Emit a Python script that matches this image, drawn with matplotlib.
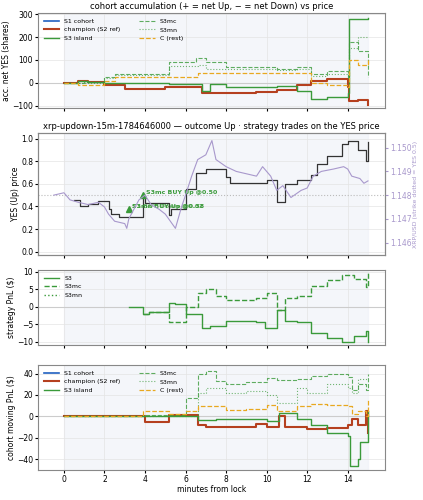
import matplotlib
matplotlib.use("Agg")
import matplotlib.pyplot as plt
import numpy as np

# ---- panel 1: accumulation ----
acc_t_island = [0,0.7,1.2,2,5.2,6.8,7.2,8,10.5,11.5,12.2,13,14,14.05,15]
acc_island   = [0,10,5,0,-5,-35,-5,-20,-15,-35,-70,-60,-45,280,285]
acc_t_champ = [0,0.7,1.2,2,3,5,6.8,9.5,10.5,11.5,12.2,13,14,14.05,14.5,15]
acc_champ   = [0,10,5,-10,-25,-20,-45,-40,-30,-10,10,15,-20,-80,-75,-95]
acc_t_mc = [0,1,2,2.5,5.2,6.5,7,8,10.5,11.5,12.2,13,14,14.05,14.5,15]
acc_mc   = [0,5,25,40,90,110,90,70,60,70,40,50,20,180,140,25]
acc_t_mn = [0,2,2.5,5.2,6.6,7,8,10.5,11.5,12.2,13,14,14.05,14.5,15]
acc_mn   = [0,20,35,75,80,60,60,55,60,30,40,20,150,200,200]
acc_t_c = [0,0.7,2,2.5,5,6.6,10.5,11.5,12.2,13,14,14.05,14.5,15]
acc_c   = [0,-10,10,25,25,45,45,45,0,-10,-20,100,80,100]

# ---- panel 2: price ----
yes_t = [0.5,0.8,1.2,1.7,2.2,2.3,2.7,3.3,3.9,4,5.2,5.3,6,6.5,7,8,8.2,10,10.5,10.9,11.5,12.2,12.5,13,13.7,14,14.5,14.9,15]
yes_p = [0.46,0.40,0.42,0.45,0.38,0.33,0.31,0.31,0.50,0.43,0.32,0.38,0.55,0.70,0.73,0.66,0.61,0.63,0.44,0.60,0.63,0.68,0.78,0.85,0.95,0.98,0.90,0.80,0.97]
xrp_t = [-0.5,0,0.3,0.7,1.2,1.7,2,2.2,2.5,3,3.1,3.2,3.7,4,4.3,4.7,5,5.5,5.8,6,6.3,6.6,7,7.3,7.5,8,8.5,9,9.5,9.8,10.2,10.5,10.8,11.2,11.7,12,12.3,12.7,13.3,13.8,14,14.2,14.6,14.8,15]
xrp_p = [1.1480,1.1481,1.1478,1.1477,1.1476,1.1477,1.1475,1.1472,1.1469,1.1468,1.1466,1.1470,1.1478,1.1480,1.1476,1.1474,1.1472,1.1466,1.1475,1.1480,1.1488,1.1495,1.1497,1.1503,1.1495,1.1492,1.1490,1.1489,1.1488,1.1492,1.1488,1.1482,1.1484,1.1479,1.1482,1.1483,1.1488,1.1490,1.1491,1.1492,1.1491,1.1488,1.1487,1.1485,1.1486]
trade_t = [3.2, 3.9]
trade_p = [0.38, 0.50]
trade_lbl = ["S3mn BUY Up @0.38", "S3mc BUY Up @0.50"]

# ---- panel 3: strategy PnL ----
s3_t = [3.2,3.9,4.2,5.2,5.5,6,6.8,7.2,8,9.5,9.9,10.5,10.9,11.5,12.2,13,13.7,14.3,14.9,15]
s3_v = [0,-2,-1.5,1,0.8,-2,-6,-5.5,-4,-4.5,-6,-1,-4,-4.5,-7.5,-9,-10,-8.5,-7,-10]
s3mc_t = [3.9,4.2,5.2,6,6.6,7,7.5,8,9.5,10,10.5,10.9,11.5,12.2,13,13.7,14.3,14.9,15]
s3mc_v = [-2,-1.5,-4.5,-0.2,4,5,3,2,2.5,4,-1,2.5,3,6,7.5,9,8,5.5,9.5]

# ---- panel 4: moving PnL ----
pi_t = [0,4,6.6,7.5,10,10.6,11.5,12.2,13,14,14.1,14.5,14.6,15]
pi_v = [0,0,-3,-2,-4,3,-2,-8,-15,-18,-46,-40,-24,5]
pc_t = [0,4,5.2,6.6,7,9.5,10,10.6,10.9,12,13,14,14.2,14.5,14.9,15]
pc_v = [0,-5,1,-8,-10,-7,-10,0,-10,-12,-11,-8,-2,-8,5,-15]
pmc_t = [0,4,5.2,6,6.6,7,7.5,8,9,10,10.5,11.5,12.2,13,14,14.2,14.5,14.9,15]
pmc_v = [0,1,1,17,40,42,33,30,32,36,34,35,38,40,37,25,30,25,40]
pmn_t = [0,6,6.6,7,8,9,10,10.5,11.5,12,13,14,14.2,14.5,15]
pmn_v = [0,0,22,27,22,24,20,13,27,22,30,27,22,35,35]
pcr_t = [0,3.9,5.2,6,6.6,8,9,10,10.5,11.5,12.2,13,14,14.2,14.5,14.9,15]
pcr_v = [0,5,2,5,10,6,7,11,5,10,12,11,10,2,5,0,15]

BLUE = '#2060c0'; RED = '#b5401f'; GREEN = '#3a9a3a'; ORANGE = '#e8a820'; PURPLE = '#a898cc'

fig = plt.figure(figsize=(4.23, 5.0), dpi=100)
L, W = 38/423, 347/423
def box(top, bot):
    return [L, 1-bot/500, W, (bot-top)/500]
ax1 = fig.add_axes(box(13, 108))
ax2 = fig.add_axes(box(133, 255))
ax3 = fig.add_axes(box(270, 345))
ax4 = fig.add_axes(box(365, 470))

for ax in (ax1, ax2, ax3, ax4):
    ax.set_xlim(-1.28, 15.84)
    ax.axvspan(0, 15, color='#eef1f8', alpha=0.6, zorder=0)
    ax.grid(True, color='#e4e4e4', lw=0.5)
    ax.tick_params(labelsize=5.5, length=2, pad=1.5)
    ax.set_xticks(range(0, 16, 2))
    for s in ax.spines.values():
        s.set_color('#888888')
    if ax is not ax4:
        ax.set_xticklabels([])

def st(ax, t, v, **kw):
    ax.step(t, v, where='post', **kw)

LBL = dict(fontsize=5.5, labelpad=1)

# panel 1
ax1.axhline(0, color='#cccccc', lw=0.8)
ax1.plot([], [], color=BLUE, lw=1.2, label='S1 cohort')
st(ax1, acc_t_champ, acc_champ, color=RED, lw=1.5, label='champion (S2 ref)')
st(ax1, acc_t_island, acc_island, color=GREEN, lw=1.0, label='S3 island')
st(ax1, acc_t_mc, acc_mc, color=GREEN, lw=0.8, ls='--', alpha=0.8, label='S3mc')
st(ax1, acc_t_mn, acc_mn, color=GREEN, lw=0.8, ls=':', alpha=0.7, label='S3mn')
st(ax1, acc_t_c, acc_c, color=ORANGE, lw=0.9, ls='--', label='C (rest)')
ax1.set_ylim(-110, 305)
ax1.set_yticks([-100, 0, 100, 200, 300])
ax1.set_ylabel('acc. net YES (shares)', **LBL)
ax1.set_title('cohort accumulation (+ = net Up, − = net Down) vs price', fontsize=6, pad=3)
ax1.legend(loc='upper left', ncol=2, fontsize=4.5, frameon=False, handlelength=2.5, columnspacing=3)

# panel 2
ax2.axhline(0.5, color='#bbbbbb', lw=0.8, ls=':')
st(ax2, yes_t, yes_p, color='#333333', lw=0.9)
ax2.set_ylim(-0.03, 1.05)
ax2.set_ylabel('YES (Up) price', **LBL)
ax2.set_title('xrp-updown-15m-1784646000 — outcome Up · strategy trades on the YES price', fontsize=6, pad=3)
ax2.plot(trade_t, trade_p, '^', color=GREEN, ms=5)
ax2.text(trade_t[0]+0.15, trade_p[0]+0.01, trade_lbl[0], fontsize=4.5, color=GREEN, weight='bold')
ax2.text(trade_t[0]+0.15, trade_p[0]+0.01, 'S1 BUY Down @0.62', fontsize=4.5, color=GREEN, weight='bold', alpha=0.7)
ax2.text(trade_t[1]+0.15, trade_p[1]+0.01, trade_lbl[1], fontsize=4.5, color=GREEN, weight='bold')
ax2b = ax2.twinx()
ax2b.plot(xrp_t, xrp_p, color=PURPLE, lw=0.8)
k = 0.001/0.21
ax2b.set_ylim(1.148 - 0.53*k, 1.148 + 0.55*k)
ax2b.set_yticks([1.146, 1.147, 1.148, 1.149, 1.150])
ax2b.tick_params(labelsize=5.5, colors=PURPLE, length=2, pad=1.5)
ax2b.set_ylabel('XRP/USD (strike dotted = YES 0.5)', fontsize=4.5, color=PURPLE, labelpad=1)
for s in ax2b.spines.values():
    s.set_color('#888888')

# panel 3
ax3.axhline(0, color='#cccccc', lw=0.8)
st(ax3, s3_t, s3_v, color=GREEN, lw=1.0, label='S3')
st(ax3, s3mc_t, s3mc_v, color=GREEN, lw=1.0, ls='--', label='S3mc')
ax3.plot([], [], color=GREEN, lw=1.0, ls=':', label='S3mn')
ax3.set_ylim(-11, 10.5)
ax3.set_yticks([-10, -5, 0, 5, 10])
ax3.set_ylabel('strategy PnL ($)', **LBL)
ax3.legend(loc='upper left', fontsize=4.5, frameon=False, handlelength=2.5)

# panel 4
ax4.axhline(0, color='#cccccc', lw=0.8)
ax4.plot([], [], color=BLUE, lw=1.2, label='S1 cohort')
st(ax4, pc_t, pc_v, color=RED, lw=1.5, label='champion (S2 ref)')
st(ax4, pi_t, pi_v, color=GREEN, lw=1.0, label='S3 island')
st(ax4, pmc_t, pmc_v, color=GREEN, lw=0.8, ls='--', alpha=0.8, label='S3mc')
st(ax4, pmn_t, pmn_v, color=GREEN, lw=0.8, ls=':', alpha=0.7, label='S3mn')
st(ax4, pcr_t, pcr_v, color=ORANGE, lw=0.9, ls='--', label='C (rest)')
ax4.set_ylim(-50, 48)
ax4.set_yticks([-40, -20, 0, 20, 40])
ax4.set_ylabel('cohort moving PnL ($)', **LBL)
ax4.set_xlabel('minutes from lock', fontsize=5.5, labelpad=1)
ax4.legend(loc='upper left', ncol=2, fontsize=4.5, frameon=False, handlelength=2.5, columnspacing=3)

fig.savefig('out.png', dpi=100)
